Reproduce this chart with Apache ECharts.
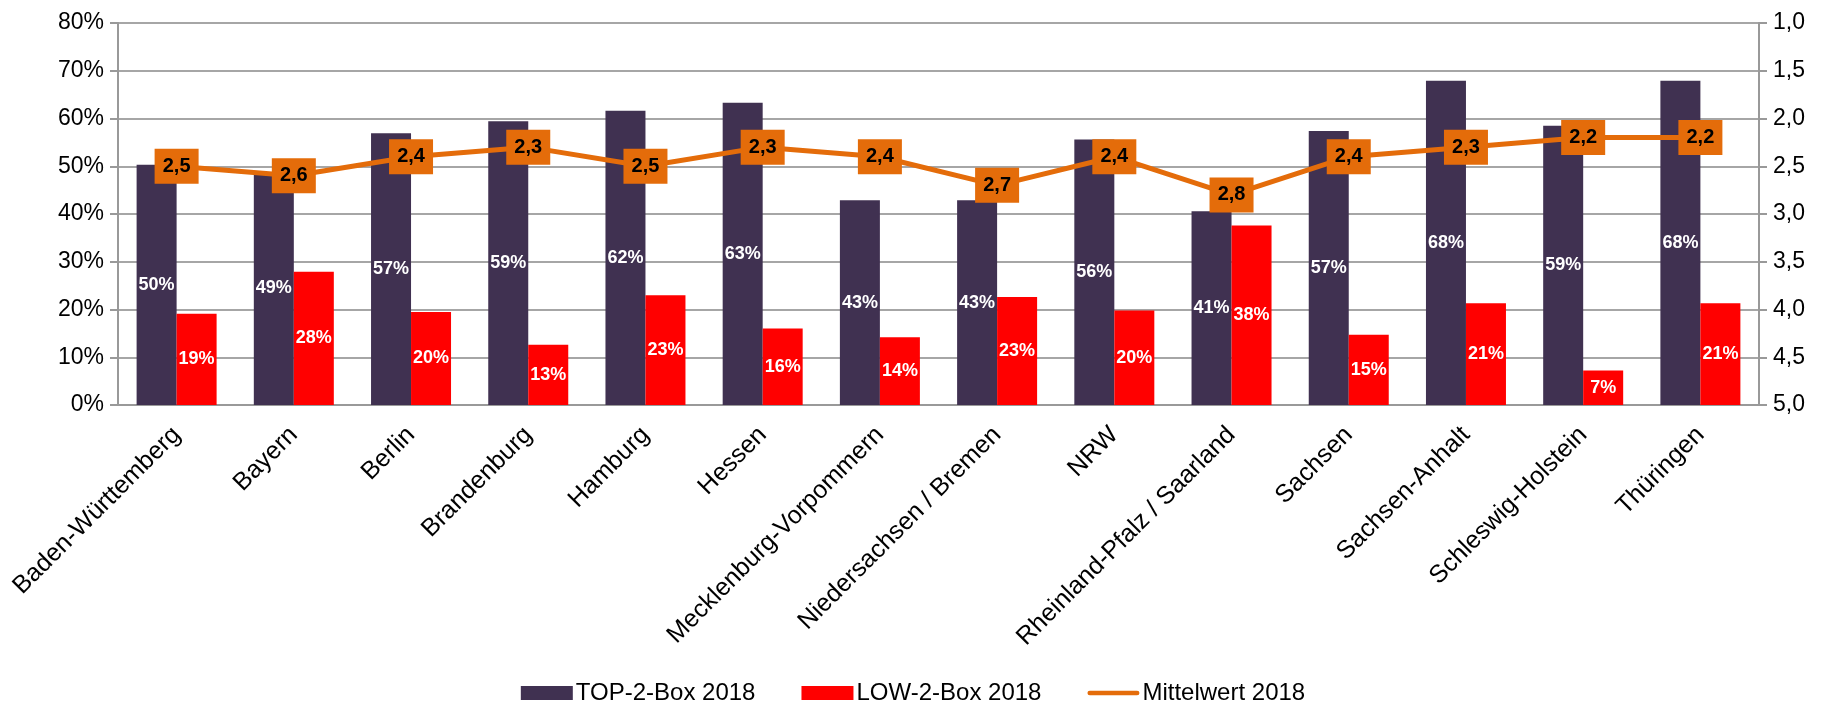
<!DOCTYPE html>
<html>
<head>
<meta charset="utf-8">
<script src="https://cdn.jsdelivr.net/npm/echarts@6/dist/echarts.min.js"></script>
<style>
  html, body { margin: 0; padding: 0; background: #fff; }
  #chart { width: 1826px; height: 714px; }
</style>
</head>
<body>
<div id="chart"></div>
<script>
// Bundesländer
const laender = ['Baden-Württemberg', 'Bayern', 'Berlin', 'Brandenburg', 'Hamburg', 'Hessen',
  'Mecklenburg-Vorpommern', 'Niedersachsen / Bremen', 'NRW', 'Rheinland-Pfalz / Saarland',
  'Sachsen', 'Sachsen-Anhalt', 'Schleswig-Holstein', 'Thüringen'];

// Werte in %
const top2Box = [50.3, 48.8, 56.9, 59.4, 61.6, 63.3, 42.9, 42.9, 55.6, 40.6, 57.4, 67.9, 58.5, 67.9];
const low2Box = [19.1, 27.9, 19.5, 12.6, 23.0, 16.0, 14.2, 22.6, 19.8, 37.6, 14.7, 21.3, 7.2, 21.3];
// Mittelwert (Notenskala, rechte Achse)
const mittelwert = [2.5, 2.6, 2.4, 2.3, 2.5, 2.3, 2.4, 2.7, 2.4, 2.8, 2.4, 2.3, 2.2, 2.2];

const FONT = "'Liberation Sans', Arial, sans-serif";
const komma = (v) => v.toFixed(1).replace('.', ',');

const chart = echarts.init(document.getElementById('chart'));

chart.setOption({
  animation: false,
  textStyle: { fontFamily: FONT },
  grid: { left: 118, right: 67, top: 23, bottom: 309 },
  legend: {
    bottom: 4,
    left: 'center',
    itemWidth: 52,
    itemHeight: 14,
    itemGap: 46,
    textStyle: { fontSize: 24, color: '#000', fontFamily: FONT, padding: [0, 0, 0, -2] },
    data: [
      { name: 'TOP-2-Box 2018', icon: 'rect' },
      { name: 'LOW-2-Box 2018', icon: 'rect' },
      { name: 'Mittelwert 2018', icon: 'path://M2,0 L53,0 A2.5,2.5 0 0 1 53,5 L2,5 A2.5,2.5 0 0 1 2,0 Z' }
    ]
  },
  xAxis: {
    type: 'category',
    data: laender,
    axisLine: { lineStyle: { color: '#999', width: 2 } },
    axisTick: { length: 8, lineStyle: { color: '#999', width: 2 } },
    axisLabel: { rotate: 45, fontSize: 25, color: '#000', margin: 26, interval: 0 }
  },
  yAxis: [
    {
      type: 'value', min: 0, max: 80, interval: 10,
      axisLine: { show: true, lineStyle: { color: '#999', width: 2 } },
      axisTick: { show: true, length: 8, lineStyle: { color: '#999', width: 2 } },
      axisLabel: { formatter: '{value}%', fontSize: 23, color: '#000', margin: 14 },
      splitLine: { lineStyle: { color: '#a6a6a6', width: 2 } }
    },
    {
      type: 'value', min: 1, max: 5, interval: 0.5, inverse: true,
      axisLine: { show: true, lineStyle: { color: '#999', width: 2 } },
      axisTick: { show: true, length: 8, lineStyle: { color: '#999', width: 2 } },
      axisLabel: { formatter: komma, fontSize: 23, color: '#000', margin: 14 },
      splitLine: { show: false }
    }
  ],
  series: [
    {
      name: 'TOP-2-Box 2018',
      type: 'bar',
      data: top2Box,
      barWidth: 40,
      barGap: '0%',
      itemStyle: { color: '#403151' },
      label: {
        show: true, position: 'inside', color: '#fff', fontWeight: 'bold', fontSize: 18,
        formatter: (p) => Math.round(p.value) + '%'
      }
    },
    {
      name: 'LOW-2-Box 2018',
      type: 'bar',
      data: low2Box,
      barWidth: 40,
      itemStyle: { color: '#ff0000' },
      label: {
        show: true, position: 'inside', color: '#fff', fontWeight: 'bold', fontSize: 18,
        formatter: (p) => Math.round(p.value) + '%'
      }
    },
    {
      name: 'Mittelwert 2018',
      type: 'line',
      yAxisIndex: 1,
      data: mittelwert,
      symbol: 'rect',
      symbolSize: [44, 35],
      itemStyle: { color: '#e46c0a' },
      lineStyle: { color: '#e46c0a', width: 5 },
      label: {
        show: true, position: 'inside', color: '#000', fontWeight: 'bold', fontSize: 20,
        formatter: (p) => komma(p.value)
      },
      z: 5
    }
  ]
});
</script>
</body>
</html>
